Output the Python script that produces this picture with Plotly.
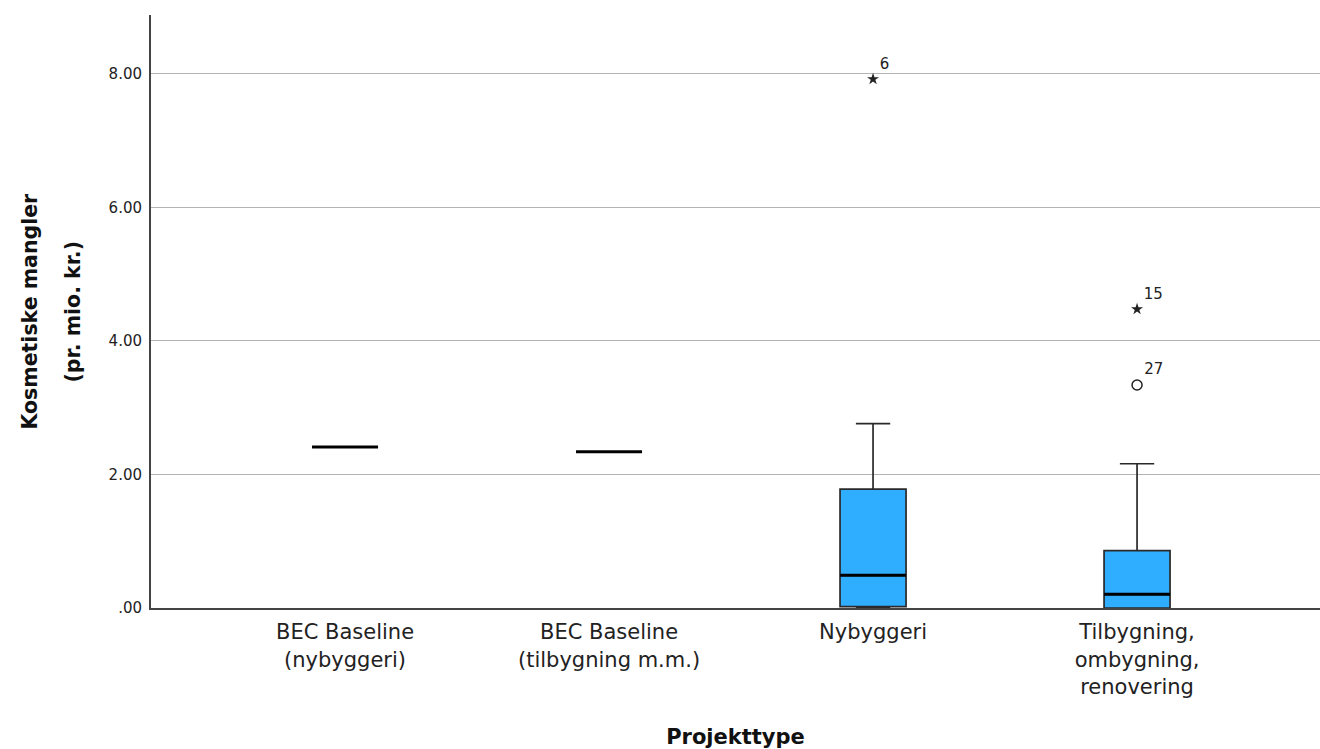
import plotly.graph_objects as go

# ---- data ----
categories = ["BEC Baseline<br>(nybyggeri)", "BEC Baseline<br>(tilbygning m.m.)",
              "Nybyggeri", "Tilbygning,<br>ombygning,<br>renovering"]
q1_vals = [2.41, 2.34, 0.02, 0.0]
median_vals = [2.41, 2.34, 0.49, 0.205]
q3_vals = [2.41, 2.34, 1.78, 0.86]
lower_vals = [2.41, 2.34, 0.0, 0.0]
upper_vals = [2.41, 2.34, 2.76, 2.16]

extreme_cat = [2, 3]
extreme_vals = [7.92, 4.475]
extreme_ids = ["6", "15"]

outlier_cat = [3]
outlier_vals = [3.34]
outlier_ids = ["27"]

y_ticks = [0, 2, 4, 6, 8]

y_title_lines = ["Kosmetiske mangler", "(pr. mio. kr.)"]
x_title = "Projekttype"

# ---- figure ----
BOX_W = 0.25
FILL = "#2FADFF"
FONT = "DejaVu Sans, Liberation Sans, Arial, sans-serif"

fig = go.Figure()

for i in range(len(categories)):
    fig.add_trace(go.Box(
        x=[i], q1=[q1_vals[i]], median=[median_vals[i]], q3=[q3_vals[i]],
        lowerfence=[lower_vals[i]], upperfence=[upper_vals[i]],
        width=BOX_W, whiskerwidth=0.52,
        fillcolor=FILL if q3_vals[i] > q1_vals[i] else "rgba(0,0,0,0)",
        line=dict(color="#2a2a2a", width=1.7),
        showlegend=False, hoverinfo="skip", boxpoints=False,
    ))
    fig.add_trace(go.Scatter(
        x=[i - BOX_W / 2, i + BOX_W / 2], y=[median_vals[i], median_vals[i]],
        mode="lines", line=dict(color="black", width=3),
        showlegend=False, hoverinfo="skip",
    ))

fig.add_trace(go.Scatter(
    x=extreme_cat, y=extreme_vals, mode="markers+text",
    marker=dict(symbol="star", size=9, color="#222222"),
    text=extreme_ids, textposition="top right",
    textfont=dict(size=15, color="#222222", family=FONT),
    showlegend=False, hoverinfo="skip",
))
fig.add_trace(go.Scatter(
    x=outlier_cat, y=outlier_vals, mode="markers+text",
    marker=dict(symbol="circle-open", size=10, color="#222222", line=dict(width=1.5)),
    text=outlier_ids, textposition="top right",
    textfont=dict(size=15, color="#222222", family=FONT),
    showlegend=False, hoverinfo="skip",
))

# y-axis title (two lines, wide line spacing as in the reference)
for xpos, line in zip([29, 72], y_title_lines):
    fig.add_annotation(
        text=f"<b>{line}</b>", textangle=-90,
        xref="paper", yref="paper", x=(xpos - 151) / 1169, y=0.5,
        xanchor="center", yanchor="middle", showarrow=False,
        font=dict(size=20.5, color="#111111", family=FONT),
    )

fig.update_layout(
    width=1320, height=749,
    margin=dict(l=151, r=0, t=15, b=141),
    paper_bgcolor="white", plot_bgcolor="white",
    font=dict(family=FONT, color="#222222"),
    xaxis=dict(
        range=[-0.735, 3.693], tickvals=list(range(len(categories))),
        ticktext=categories, tickfont=dict(size=21, color="#222222"),
        showgrid=False, zeroline=False, showline=True, linecolor="#444444",
        linewidth=2, ticks="", ticklabelstandoff=4,
        title=dict(text=f"<b>{x_title}</b>", font=dict(size=21, color="#111111"), standoff=34),
    ),
    yaxis=dict(
        range=[0, 8.88], tickvals=y_ticks,
        ticktext=[f"{v:.2f}".lstrip("0") if v == 0 else f"{v:.2f}" for v in y_ticks],
        tickfont=dict(size=15, color="#222222"),
        showgrid=True, gridcolor="#b4b4b4", gridwidth=1,
        zeroline=False, showline=True, linecolor="#444444", linewidth=2,
        ticks="", ticklabelstandoff=4,
    ),
)

fig.write_html("out.html")
